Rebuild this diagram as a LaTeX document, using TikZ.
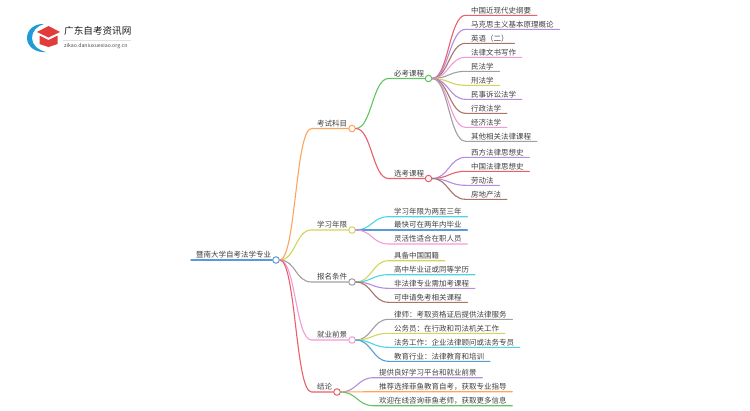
\documentclass[tikz,border=0pt]{standalone}
\usepackage{fontspec}
\setmainfont{Noto Sans CJK SC}
\usepackage{tikz}
\usetikzlibrary{positioning}

\definecolor{cblue}{HTML}{5B9BD5}
\definecolor{corange}{HTML}{FFA45C}
\definecolor{cgreen}{HTML}{62C462}
\definecolor{cred}{HTML}{E8606A}
\definecolor{cpurple}{HTML}{B48CE0}
\definecolor{cbrown}{HTML}{A87468}
\definecolor{cpink}{HTML}{F29AD8}
\definecolor{cgray}{HTML}{A0A0A0}
\definecolor{cyellow}{HTML}{D4D45C}
\definecolor{ccyan}{HTML}{50D4E4}
\definecolor{ctext}{HTML}{404040}
\definecolor{logoblue}{HTML}{1E9BD8}
\definecolor{logored}{HTML}{E23B3B}

\begin{document}
\begin{tikzpicture}[
  x=1pt, y=-1pt,
  topic/.style={anchor=south west, inner xsep=5.5pt, inner ysep=0pt, text height=7pt, text depth=2pt, font=\fontsize{7.5pt}{9pt}\selectfont, text=ctext},
  dot/.style={circle, draw, fill=white, line width=1pt, inner sep=0pt, minimum size=6.5pt},
  link/.style={line width=1.1pt, line cap=round}
]
\useasboundingbox (0,0) rectangle (750,410);

% Logo
\fill[logoblue] (44,24) .. controls (34,23.5) and (27,30) .. (27,38) .. controls (27,46) and (35,53) .. (46,52) .. controls (38,50) and (32,45) .. (32,38) .. controls (32,31) and (37,26) .. (44,24) -- cycle;
\fill[logored] (48.5,26) -- (60,32) -- (48.5,37.5) -- (37,32) -- cycle;
\fill[logored] (39.5,35.5) -- (48.5,40) -- (57.5,35.5) -- (57.5,44) -- (48.5,47) -- (39.5,44) -- cycle;
\node[anchor=west, inner sep=0pt, font=\fontsize{9.6pt}{11pt}\selectfont, text=black!90] (brand) at (64,31) {广东自考资讯网};
\draw[black!12, line width=0.5pt] (63,40) -- (131,40);
\node[anchor=west, inner sep=0pt, font=\fontsize{5.2pt}{6pt}\selectfont, text=black!70] (site) at (64,46.5) {zikao.daniuxuexiao.org.cn};

% Topics
\node[topic, inner xsep=5pt] (root) at (191,260) {暨南大学自考法学专业};
\node[topic] (exam) at (311.5,128.5) {考试科目};
\node[topic] (years) at (311.5,230) {学习年限};
\node[topic] (entry) at (311.5,282) {报名条件};
\node[topic] (jobs) at (311.5,340) {就业前景};
\node[topic] (concl) at (311.5,392) {结论};
\node[topic] (must) at (388.5,78.5) {必考课程};
\node[topic] (opt) at (388.5,178.5) {选考课程};

% Dots
\node[dot, draw=cblue] (droot) at (276,260) {};
\node[dot, draw=corange] (dexam) at (352,128.5) {};
\node[dot, draw=cyellow] (dyears) at (352,230) {};
\node[dot, draw=cgray] (dentry) at (352,282) {};
\node[dot, draw=cpink] (djobs) at (352,340) {};
\node[dot, draw=cred] (dconcl) at (337,392) {};
\node[dot, draw=cgreen] (dmust) at (428.5,78.5) {};
\node[dot, draw=cred] (dopt) at (428.5,178.5) {};

% Required courses
\node[topic] (m1) at (465.5,15.3) {中国近现代史纲要};
\node[topic] (m2) at (465.5,29.3) {马克思主义基本原理概论};
\node[topic] (m3) at (465.5,43.3) {英语（二）};
\node[topic] (m4) at (465.5,57.3) {法律文书写作};
\node[topic] (m5) at (465.5,71.3) {民法学};
\node[topic] (m6) at (465.5,85.3) {刑法学};
\node[topic] (m7) at (465.5,99.3) {民事诉讼法学};
\node[topic] (m8) at (465.5,113.3) {行政法学};
\node[topic] (m9) at (465.5,127.3) {经济法学};
\node[topic] (m10) at (465.5,141.3) {其他相关法律课程};

% Optional courses
\node[topic] (o1) at (465.5,157.3) {西方法律思想史};
\node[topic] (o2) at (465.5,171.3) {中国法律思想史};
\node[topic] (o3) at (465.5,185.3) {劳动法};
\node[topic] (o4) at (465.5,199.3) {房地产法};

% Study years
\node[topic] (y1) at (388.5,216.7) {学习年限为两至三年};
\node[topic] (y2) at (388.5,230) {最快可在两年内毕业};
\node[topic] (y3) at (388.5,244) {灵活性适合在职人员};

% Entry
\node[topic] (e1) at (388.5,260.7) {具备中国国籍};
\node[topic] (e2) at (388.5,274.7) {高中毕业证或同等学历};
\node[topic] (e3) at (388.5,288.3) {非法律专业需加考课程};
\node[topic] (e4) at (388.5,302.3) {可申请免考相关课程};

% Jobs
\node[topic] (j1) at (388.5,319.3) {律师：考取资格证后提供法律服务};
\node[topic] (j2) at (388.5,333.3) {公务员：在行政和司法机关工作};
\node[topic] (j3) at (388.5,347.3) {法务工作：企业法律顾问或法务专员};
\node[topic] (j4) at (388.5,361.3) {教育行业：法律教育和培训};

% Conclusion
\node[topic] (c1) at (373.5,377.7) {提供良好学习平台和就业前景};
\node[topic] (c2) at (373.5,391.7) {推荐选择菲鱼教育自考，获取专业指导};
\node[topic] (c3) at (373.5,405.7) {欢迎在线咨询菲鱼老师，获取更多信息};

% Links from the root
\draw[link, line width=1.5pt, cblue] (root.south west) -- (droot.west);
\draw[link, corange] (droot.east) .. controls +(16,0) and +(-16,0) .. (exam.south west) -- (dexam.west);
\draw[link, cyellow] (droot.east) .. controls +(16,0) and +(-16,0) .. (years.south west) -- (dyears.west);
\draw[link, cgray] (droot.east) .. controls +(16,0) and +(-16,0) .. (entry.south west) -- (dentry.west);
\draw[link, cpink] (droot.east) .. controls +(16,0) and +(-16,0) .. (jobs.south west) -- (djobs.west);
\draw[link, cred] (droot.east) .. controls +(16,0) and +(-16,0) .. (concl.south west) -- (dconcl.west);
\draw[link, cgreen] (dexam.east) .. controls +(16,0) and +(-16,0) .. (must.south west) -- (dmust.west);
\draw[link, cred] (dexam.east) .. controls +(16,0) and +(-16,0) .. (opt.south west) -- (dopt.west);

% Links to the leaves
\draw[link, cred] (dmust.east) .. controls +(16,0) and +(-16,0) .. (m1.south west) -- (m1.south east);
\draw[link, cpurple] (dmust.east) .. controls +(16,0) and +(-16,0) .. (m2.south west) -- (m2.south east);
\draw[link, cbrown] (dmust.east) .. controls +(16,0) and +(-16,0) .. (m3.south west) -- (m3.south east);
\draw[link, cpink] (dmust.east) .. controls +(16,0) and +(-16,0) .. (m4.south west) -- (m4.south east);
\draw[link, cgray] (dmust.east) .. controls +(16,0) and +(-16,0) .. (m5.south west) -- (m5.south east);
\draw[link, cyellow] (dmust.east) .. controls +(16,0) and +(-16,0) .. (m6.south west) -- (m6.south east);
\draw[link, cpurple] (dmust.east) .. controls +(16,0) and +(-16,0) .. (m7.south west) -- (m7.south east);
\draw[link, cbrown] (dmust.east) .. controls +(16,0) and +(-16,0) .. (m8.south west) -- (m8.south east);
\draw[link, cpink] (dmust.east) .. controls +(16,0) and +(-16,0) .. (m9.south west) -- (m9.south east);
\draw[link, cgray] (dmust.east) .. controls +(16,0) and +(-16,0) .. (m10.south west) -- (m10.south east);
\draw[link, cpurple] (dopt.east) .. controls +(16,0) and +(-16,0) .. (o1.south west) -- (o1.south east);
\draw[link, cred] (dopt.east) .. controls +(16,0) and +(-16,0) .. (o2.south west) -- (o2.south east);
\draw[link, cpurple] (dopt.east) .. controls +(16,0) and +(-16,0) .. (o3.south west) -- (o3.south east);
\draw[link, cbrown] (dopt.east) .. controls +(16,0) and +(-16,0) .. (o4.south west) -- (o4.south east);
\draw[link, ccyan] (dyears.east) .. controls +(16,0) and +(-16,0) .. (y1.south west) -- (y1.south east);
\draw[link, cblue] (dyears.east) .. controls +(16,0) and +(-16,0) .. (y2.south west) -- (y2.south east);
\draw[link, cpink] (dyears.east) .. controls +(16,0) and +(-16,0) .. (y3.south west) -- (y3.south east);
\draw[link, cyellow] (dentry.east) .. controls +(16,0) and +(-16,0) .. (e1.south west) -- (e1.south east);
\draw[link, ccyan] (dentry.east) .. controls +(16,0) and +(-16,0) .. (e2.south west) -- (e2.south east);
\draw[link, cpurple] (dentry.east) .. controls +(16,0) and +(-16,0) .. (e3.south west) -- (e3.south east);
\draw[link, cbrown] (dentry.east) .. controls +(16,0) and +(-16,0) .. (e4.south west) -- (e4.south east);
\draw[link, cgray] (djobs.east) .. controls +(16,0) and +(-16,0) .. (j1.south west) -- (j1.south east);
\draw[link, cyellow] (djobs.east) .. controls +(16,0) and +(-16,0) .. (j2.south west) -- (j2.south east);
\draw[link, ccyan] (djobs.east) .. controls +(16,0) and +(-16,0) .. (j3.south west) -- (j3.south east);
\draw[link, cblue] (djobs.east) .. controls +(16,0) and +(-16,0) .. (j4.south west) -- (j4.south east);
\draw[link, cpurple] (dconcl.east) .. controls +(16,0) and +(-16,0) .. (c1.south west) -- (c1.south east);
\draw[link, corange] (dconcl.east) .. controls +(16,0) and +(-16,0) .. (c2.south west) -- (c2.south east);
\draw[link, cgreen] (dconcl.east) .. controls +(16,0) and +(-16,0) .. (c3.south west) -- (c3.south east);

\end{tikzpicture}
\end{document}
